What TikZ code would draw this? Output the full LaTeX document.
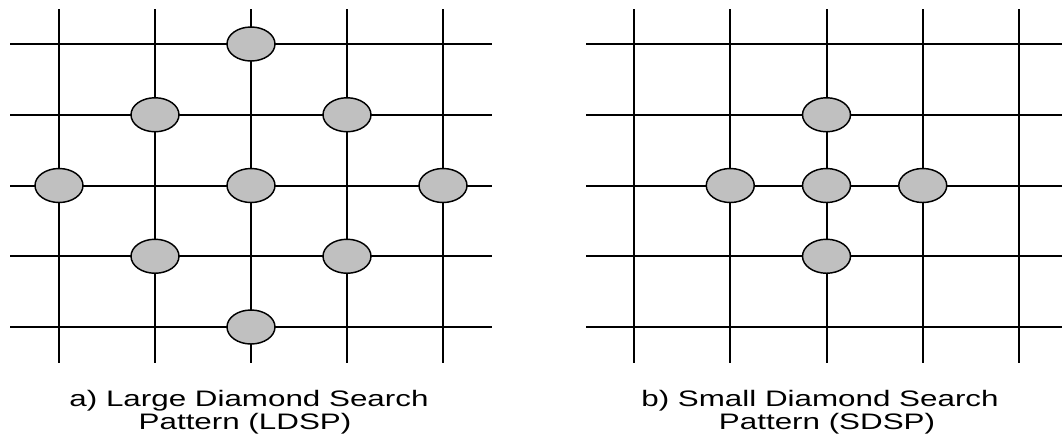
\documentclass[tikz,border=0pt]{standalone}
\usepackage{fontspec}
\setmainfont{Liberation Sans}
\usetikzlibrary{shapes.geometric}
\definecolor{ptgray}{RGB}{192,192,192}
\tikzset{
  gridline/.style={line width=1.5pt, black},
  pt/.style={ellipse, draw=black, line width=1.1pt, fill=ptgray, minimum width=36pt, minimum height=25.5pt, inner sep=0pt},
  captext/.style={anchor=base, inner sep=0pt, font=\fontsize{16.8pt}{18pt}\selectfont}
}
\newcommand{\wide}[1]{\scalebox{1.40}[1]{#1}}
\begin{document}
\begin{tikzpicture}[x=0.75pt, y=-0.75pt]
\useasboundingbox (0,0) rectangle (1062,436);
% left grid
\foreach \r in {0,...,4} {
  \draw[gridline] (10,{44+70.75*\r}) -- (492,{44+70.75*\r});
}
\foreach \c in {0,...,4} {
  \draw[gridline] ({59+96*\c},9) -- ({59+96*\c},363);
}
% right grid
\foreach \r in {0,...,4} {
  \draw[gridline] (586,{44+70.75*\r}) -- (1062,{44+70.75*\r});
}
\foreach \c in {0,...,4} {
  \draw[gridline] ({634+96.25*\c},9) -- ({634+96.25*\c},363);
}
% LDSP points
\node[pt] (L1) at (251,44) {};
\node[pt] (L2) at (155,114.75) {};
\node[pt] (L3) at (347,114.75) {};
\node[pt] (L4) at (59,185.5) {};
\node[pt] (L5) at (251,185.5) {};
\node[pt] (L6) at (443,185.5) {};
\node[pt] (L7) at (155,256.25) {};
\node[pt] (L8) at (347,256.25) {};
\node[pt] (L9) at (251,327) {};
% SDSP points
\node[pt] (S1) at (826.5,114.75) {};
\node[pt] (S2) at (730.25,185.5) {};
\node[pt] (S3) at (826.5,185.5) {};
\node[pt] (S4) at (922.75,185.5) {};
\node[pt] (S5) at (826.5,256.25) {};
% captions
\node[captext] (ca1) at (249,406) {\wide{a) Large Diamond Search}};
\node[captext] (ca2) at (245,429) {\wide{Pattern (LDSP)}};
\node[captext] (cb1) at (820,406) {\wide{b) Small Diamond Search}};
\node[captext] (cb2) at (827,429) {\wide{Pattern (SDSP)}};
\end{tikzpicture}
\end{document}
